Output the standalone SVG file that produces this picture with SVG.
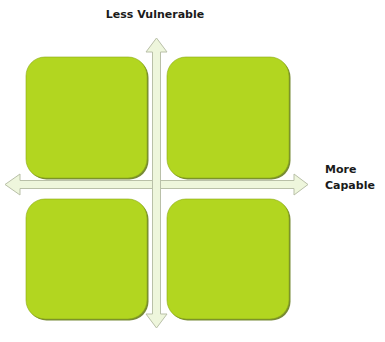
<svg xmlns="http://www.w3.org/2000/svg" width="385" height="342" viewBox="0 0 385 342">
<style>
.box{fill:#b2d620;stroke:#8aa814;stroke-width:0.6}
.shadow{fill:#5f7510;opacity:0.85}
.arrow{fill:#eef6dc;stroke:#b9c0a8;stroke-width:1}
.lbl{font-family:"DejaVu Sans","Liberation Sans",Arial,sans-serif;font-weight:bold;font-size:11px;fill:#1a1a1a}
</style>
<rect width="385" height="342" fill="#ffffff"/>
<g id="box-tl"><rect class="shadow" x="27.5" y="58.5" width="121" height="121" rx="19"/><rect class="box" x="26" y="57" width="121" height="121" rx="19"/></g>
<g id="box-tr"><rect class="shadow" x="168.5" y="58.5" width="122" height="121" rx="19"/><rect class="box" x="167" y="57" width="122" height="121" rx="19"/></g>
<g id="box-bl"><rect class="shadow" x="27.5" y="200.5" width="121" height="120" rx="19"/><rect class="box" x="26" y="199" width="121" height="120" rx="19"/></g>
<g id="box-br"><rect class="shadow" x="168.5" y="200.5" width="122" height="120" rx="19"/><rect class="box" x="167" y="199" width="122" height="120" rx="19"/></g>
<g id="connectors">
<polygon class="arrow" points="5,184.5 20,174 20,180.5 294,180.5 294,174 308,184.5 294,195 294,188.5 20,188.5 20,195"/>
<polygon class="arrow" points="156.5,38 167,52 160.5,52 160.5,314 167,314 156.5,328 146,314 152.5,314 152.5,52 146,52"/>
<rect x="153" y="181" width="7" height="7" fill="#eef6dc"/>
</g>
<text class="lbl" x="155" y="18" text-anchor="middle">Less Vulnerable</text>
<text class="lbl" x="325" y="173">More</text>
<text class="lbl" x="325" y="189">Capable</text>
</svg>
